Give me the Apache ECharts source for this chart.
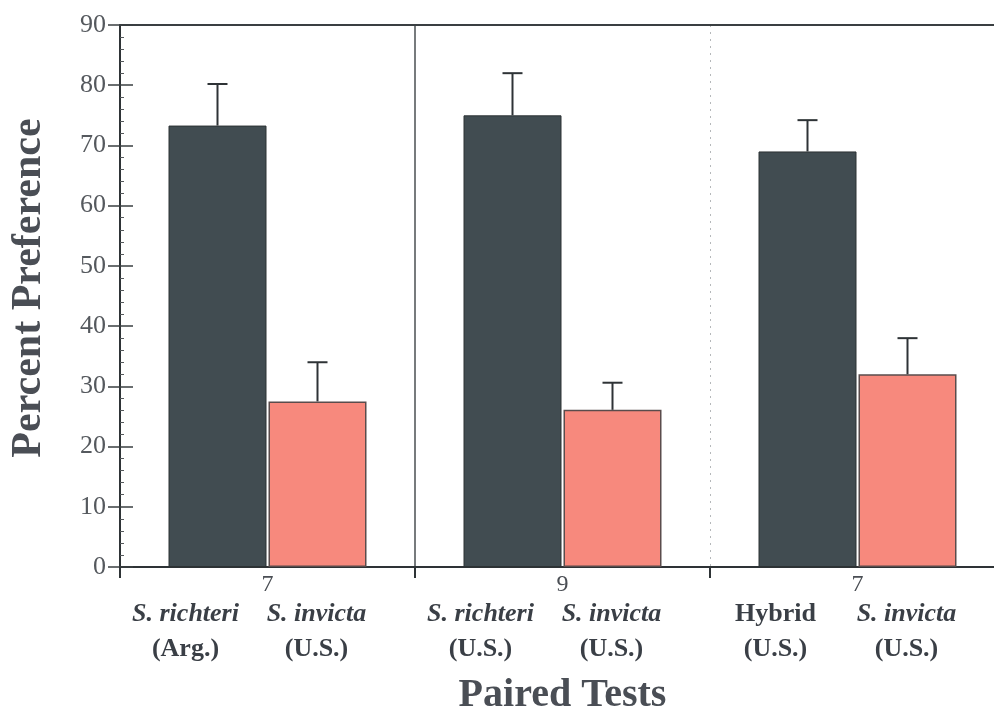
<!DOCTYPE html>
<html>
<head>
<meta charset="utf-8">
<script src="https://cdn.jsdelivr.net/npm/echarts@6/dist/echarts.min.js"></script>
<style>html,body{margin:0;padding:0;background:#fff;}#c{width:994px;height:716px;}</style>
</head>
<body>
<div id="c"></div>
<script>
const groupN = ['7', '9', '7'];
const leftNames = ['S. richteri', 'S. richteri', 'Hybrid'];
const leftItalic = [true, true, false];
const leftOrigins = ['(Arg.)', '(U.S.)', '(U.S.)'];
const rightNames = ['S. invicta', 'S. invicta', 'S. invicta'];
const rightOrigins = ['(U.S.)', '(U.S.)', '(U.S.)'];
const leftValues = [73.3, 75.0, 69.0];
const leftErrTop = [80.2, 82.0, 74.2];
const rightValues = [27.5, 26.1, 32.0];
const rightErrTop = [34.0, 30.6, 38.0];
const yMin = 0, yMax = 90, yInterval = 10;

const serif = '"Liberation Serif", "DejaVu Serif", serif';
const textColor = '#3a3f46';
const BAR_W = 98, BAR_GAP = 2;
const LW = 98, RW = 164;

const chart = echarts.init(document.getElementById('c'));

function errSeries(values, tops, sign) {
  return {
    type: 'custom',
    xAxisIndex: 0, yAxisIndex: 0,
    z: 5,
    data: values.map((v, i) => [i, v, tops[i]]),
    renderItem: function (params, api) {
      const cat = api.value(0);
      const p1 = api.coord([cat, api.value(1)]);
      const p2 = api.coord([cat, api.value(2)]);
      const x = p1[0] + sign * (BAR_W + BAR_GAP) / 2;
      const st = { stroke: '#2e3336', lineWidth: 2 };
      return {
        type: 'group',
        children: [
          { type: 'line', shape: { x1: x, y1: p1[1], x2: x, y2: p2[1] }, style: st },
          { type: 'line', shape: { x1: x - 10, y1: p2[1], x2: x + 10, y2: p2[1] }, style: st }
        ]
      };
    }
  };
}

const option = {
  backgroundColor: '#fff',
  animation: false,
  grid: { left: 120, width: 885, top: 25, height: 542, containLabel: false, outerBoundsMode: 'none' },
  xAxis: [
    {
      type: 'category',
      data: groupN,
      position: 'bottom',
      boundaryGap: true,
      axisLine: { show: true, onZero: false, lineStyle: { color: '#2e3336', width: 2 } },
      axisTick: { show: true, inside: false, length: 11, lineStyle: { color: '#2e3336', width: 2 } },
      axisLabel: {
        margin: 7,
        interval: 0,
        formatter: function (value, index) {
          const ls = leftItalic[index] ? 'li' : 'lb';
          return '{n|' + groupN[index] + '}\n{' + ls + '|' + leftNames[index] + '}{ri|' + rightNames[index] +
                 '}\n{lo|' + leftOrigins[index] + '}{ro|' + rightOrigins[index] + '}';
        },
        rich: {
          n: { width: LW + RW, align: 'center', fontFamily: serif, fontSize: 24, lineHeight: 22, color: '#4a4e54' },
          li: { width: LW, align: 'center', fontFamily: serif, fontSize: 26, fontStyle: 'italic', fontWeight: 'bold', lineHeight: 36, color: textColor },
          lb: { width: LW, align: 'center', fontFamily: serif, fontSize: 26, fontWeight: 'bold', lineHeight: 36, color: textColor },
          ri: { width: RW, align: 'center', fontFamily: serif, fontSize: 26, fontStyle: 'italic', fontWeight: 'bold', lineHeight: 36, color: textColor },
          lo: { width: LW, align: 'center', fontFamily: serif, fontSize: 26, fontWeight: 'bold', lineHeight: 34, color: textColor },
          ro: { width: RW, align: 'center', fontFamily: serif, fontSize: 26, fontWeight: 'bold', lineHeight: 34, color: textColor }
        }
      },
      splitLine: {
        show: true,
        lineStyle: { color: ['rgba(0,0,0,0)', '#4a4f52', 'rgba(0,0,0,0)', 'rgba(0,0,0,0)'], width: 1.5 }
      },
      name: 'Paired Tests',
      nameLocation: 'middle',
      nameGap: 109,
      nameTextStyle: { fontFamily: serif, fontSize: 40, fontWeight: 'bold', color: '#4a4e55' }
    },
    {
      type: 'category',
      data: groupN,
      position: 'top',
      boundaryGap: true,
      axisLine: { show: true, onZero: false, lineStyle: { color: '#3a3f42', width: 2 } },
      axisTick: { show: false },
      axisLabel: { show: false },
      splitLine: {
        show: true,
        lineStyle: { color: ['rgba(0,0,0,0)', 'rgba(0,0,0,0)', '#b5b8ba', 'rgba(0,0,0,0)'], width: 1, type: [2, 5] }
      }
    }
  ],
  yAxis: [
    {
      type: 'value',
      min: yMin, max: yMax, interval: yInterval,
      axisLine: { show: true, lineStyle: { color: '#2e3336', width: 2 } },
      axisTick: { show: true, inside: true, length: 13, lineStyle: { color: '#3a3f42', width: 1.5 } },
      minorTick: { show: true, splitNumber: 5, length: 4, lineStyle: { color: '#55595c', width: 1 } },
      axisLabel: { margin: 14, fontFamily: serif, fontSize: 26, color: '#55595e' },
      splitLine: { show: false },
      name: 'Percent Preference',
      nameLocation: 'middle',
      nameGap: 70,
      nameTextStyle: { fontFamily: serif, fontSize: 42, fontWeight: 'bold', color: '#4a4e55', padding: [0, 0, 0, 16] }
    },
    {
      type: 'value',
      min: yMin, max: yMax, interval: yInterval,
      position: 'left',
      axisLine: { show: false },
      axisTick: { show: true, inside: false, length: 12, lineStyle: { color: '#3a3f42', width: 1.5 } },
      axisLabel: { show: false },
      splitLine: { show: false }
    }
  ],
  series: [
    {
      type: 'bar',
      xAxisIndex: 0, yAxisIndex: 0,
      data: leftValues,
      barWidth: BAR_W,
      barGap: (BAR_GAP / BAR_W * 100) + '%',
      itemStyle: { color: '#414c51', borderColor: '#2c3234', borderWidth: 1 }
    },
    {
      type: 'bar',
      xAxisIndex: 0, yAxisIndex: 0,
      data: rightValues,
      barWidth: BAR_W,
      itemStyle: { color: '#f7897d', borderColor: '#5a4c4c', borderWidth: 1.5 }
    },
    errSeries(leftValues, leftErrTop, -1),
    errSeries(rightValues, rightErrTop, 1)
  ]
};
chart.setOption(option);
</script>
</body>
</html>
